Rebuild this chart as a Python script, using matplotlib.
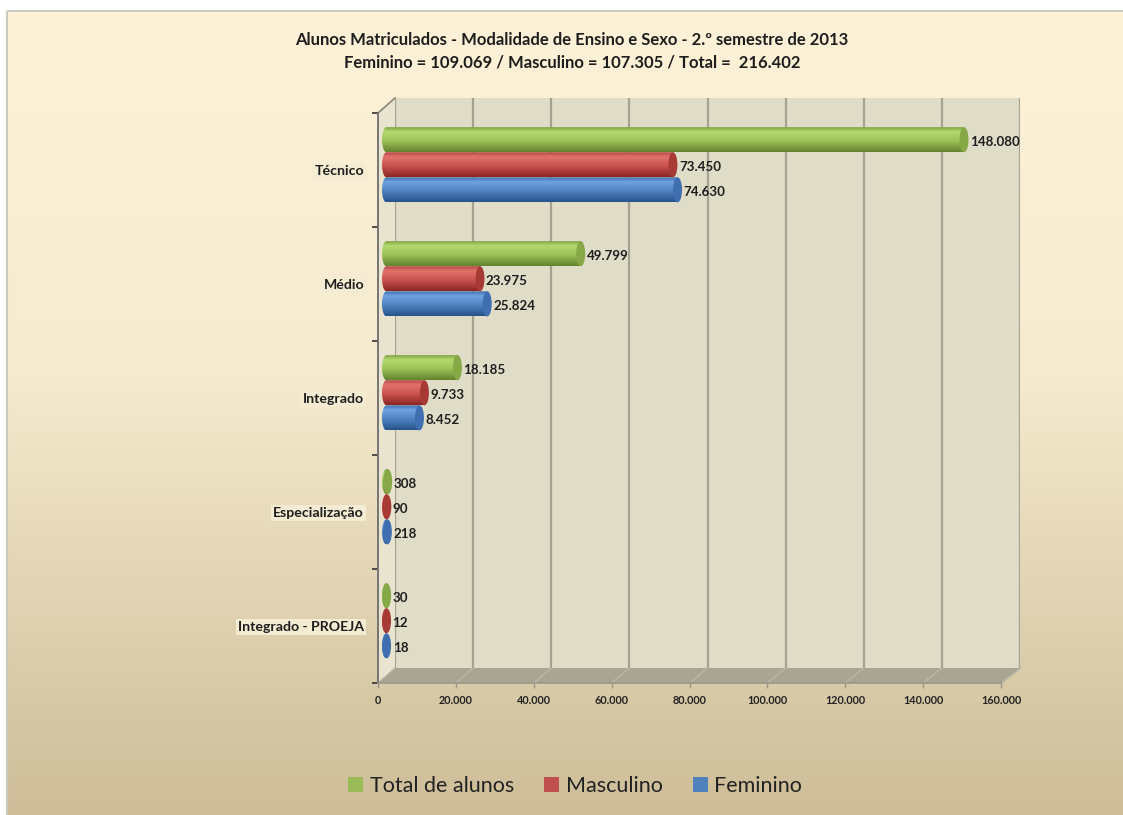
import matplotlib
matplotlib.use('Agg')
import numpy as np
import matplotlib.pyplot as plt
from matplotlib.colors import LinearSegmentedColormap
from matplotlib.patches import Ellipse, Polygon, Rectangle, Patch
from matplotlib.ticker import FuncFormatter, MultipleLocator, FixedLocator

plt.rcParams['font.family'] = ['Lato', 'DejaVu Sans']

categories = ['Técnico', 'Médio', 'Integrado', 'Especialização', 'Integrado - PROEJA']
total = [148080, 49799, 18185, 308, 30]
masculino = [73450, 23975, 9733, 90, 12]
feminino = [74630, 25824, 8452, 218, 18]
series_names = ['Total de alunos', 'Masculino', 'Feminino']
title1 = 'Alunos Matriculados - Modalidade de Ensino e Sexo - 2.º semestre de 2013'
title2 = 'Feminino = 109.069 / Masculino = 107.305 / Total =  216.402'

W, H = 1123, 815
fig = plt.figure(figsize=(W / 100, H / 100), dpi=100, facecolor='white')


def box(x0, y0, x1, y1):
    # pixel box (top-left origin) -> figure fraction rect
    return [x0 / W, 1 - y1 / H, (x1 - x0) / W, (y1 - y0) / H]


def fmt(v):
    return f'{int(v):,}'.replace(',', '.')


# background in pixel coords
bg = fig.add_axes([0, 0, 1, 1], zorder=0)
bg.set_xlim(0, W)
bg.set_ylim(H, 0)
bg.axis('off')
bg_cmap = LinearSegmentedColormap.from_list('bg', [(0, '#fdf2d7'), (0.45, '#f6ebcf'), (1, '#cdbd98')])
grad = np.linspace(0, 1, 256).reshape(-1, 1)
bg.imshow(grad, cmap=bg_cmap, extent=(7, W, H, 11), aspect='auto', origin='upper')
bg.add_patch(Rectangle((7, 11), W, H, fill=False, ec='#cfcac0', lw=1.5))
bg.set_xlim(0, W)
bg.set_ylim(H, 0)

# 3d geometry (pixels): front plane, back plane
fx0, fx1, fy0, fy1 = 378, 1001, 113, 683
bx0, bx1, by0, by1 = 395, 1020, 98, 668

# left wall and floor
bg.add_patch(Polygon([(fx0, fy0), (bx0, by0), (bx0, by1), (fx0, fy1)], closed=True,
                     fc='#e8e4cf', ec='none'))
bg.add_patch(Polygon([(fx0, fy1), (bx0, by1), (bx1, by1), (fx1, fy1)], closed=True,
                     fc='#a9a593', ec='none'))
bg.plot([fx0, bx0], [fy0, by0], color='#8a8778', lw=1.2)
bg.plot([fx1, bx1], [fy1, by1], color='#9a978a', lw=1.2)
for v in range(0, 160001, 20000):
    xb = bx0 + v / 160000 * (bx1 - bx0)
    xf = fx0 + v / 160000 * (fx1 - fx0)
    bg.plot([xf, xb], [fy1, by1], color='#bcb8a8', lw=1.0)

# back wall
back = fig.add_axes(box(bx0, by0, bx1, by1), zorder=1)
back.set_xlim(0, 160000)
back.set_ylim(0, 5)
back.set_facecolor('#dfdcc7')
for s in back.spines.values():
    s.set_visible(False)
back.set_xticks(range(0, 160001, 20000))
back.set_yticks([])
back.tick_params(length=0, labelbottom=False)
back.grid(axis='x', color='#a5a294', lw=1.6)

# front axes: ticks and labels
front = fig.add_axes(box(fx0, fy0, fx1, fy1), zorder=2)
front.patch.set_visible(False)
front.set_xlim(0, 160000)
front.set_ylim(0, 5)
for k in ['top', 'right']:
    front.spines[k].set_visible(False)
front.spines['left'].set_color('#6d6d6d')
front.spines['left'].set_linewidth(1.3)
front.spines['bottom'].set_color('#9a978a')
front.spines['bottom'].set_linewidth(1.2)
front.xaxis.set_major_locator(MultipleLocator(20000))
front.xaxis.set_major_formatter(FuncFormatter(lambda v, p: fmt(v)))
front.tick_params(axis='x', length=3.6, width=1, color='#9a978a', pad=5,
                  labelsize=7.8, labelcolor='#222222')
for t in front.get_xticklabels():
    t.set_fontweight('bold')
front.yaxis.set_major_locator(FixedLocator(range(6)))
front.yaxis.set_major_formatter(FuncFormatter(lambda v, p: ''))
front.yaxis.set_minor_locator(FixedLocator([4.5, 3.5, 2.5, 1.5, 0.5]))
front.set_yticklabels(categories, minor=True)
front.tick_params(axis='y', which='major', length=4, width=1.2, color='#333333')
front.tick_params(axis='y', which='minor', length=0, pad=10, labelsize=10.2, labelcolor='#1e1e1e')
for t in front.get_yticklabels(minor=True):
    t.set_fontweight('bold')
    t.set_bbox(dict(boxstyle='square,pad=0.15', fc='#f3ebd2', ec='none'))

# bars (middle depth plane)
ax = fig.add_axes(box((fx0 + bx0) / 2, (fy0 + by0) / 2, (fx1 + bx1) / 2, (fy1 + by1) / 2), zorder=3)
ax.patch.set_visible(False)
ax.axis('off')
ax.set_xlim(0, 160000)
ax.set_ylim(0, 5)

styles = [
    # top-dark, light, mid, bottom-dark, cap
    ('#76963a', '#b4da6e', '#9fc45a', '#63822c', '#86a847'),
    ('#a83d39', '#e3726d', '#cc5551', '#8c2522', '#a83a36'),
    ('#33639f', '#70a1e0', '#5285c4', '#27528a', '#3f6fb0'),
]
series = [total, masculino, feminino]
offsets = [0.20, -0.02, -0.24]
h = 0.22
capw = 2300
ypos = [4.5, 3.5, 2.5, 1.5, 0.5]

for vals, st, off in zip(series, styles, offsets):
    cmap = LinearSegmentedColormap.from_list('c', [(0, st[0]), (0.22, st[1]), (0.55, st[2]), (1, st[3])])
    for yc, v in zip(ypos, vals):
        y = yc + off
        top, bot = y + h / 2, y - h / 2
        t = np.linspace(np.pi / 2, 3 * np.pi / 2, 40)
        arc = list(zip(capw / 2 * np.cos(t), y + h / 2 * np.sin(t)))
        poly = Polygon([(v, top), (0, top)] + arc + [(0, bot), (v, bot)], closed=True,
                       transform=ax.transData, fc='none', ec='none')
        im = ax.imshow(grad, cmap=cmap, extent=(-capw / 2, v, bot, top), aspect='auto',
                       origin='upper', interpolation='bilinear', zorder=2)
        im.set_clip_path(poly)
        im.set_clip_box(fig.bbox)
        ax.add_patch(Ellipse((v, y), capw, h, fc=st[4], ec='none', zorder=3, clip_on=False))
        ax.annotate(fmt(v), (v, y), xytext=(6, -2), textcoords='offset pixels',
                    ha='left', va='center', fontsize=9.6, fontweight='bold', color='#1e1e1e',
                    zorder=4, annotation_clip=False)

ax.set_xlim(0, 160000)
ax.set_ylim(0, 5)

# titles
fig.text(572 / W, 1 - 40 / H, title1, ha='center', va='center', fontsize=12,
         fontweight='bold', color='#1e1e1e')
fig.text(572 / W, 1 - 62 / H, title2, ha='center', va='center', fontsize=12,
         fontweight='bold', color='#1e1e1e')

# legend
handles = [Patch(fc='#9bbb59', ec='none'), Patch(fc='#c0504d', ec='none'),
           Patch(fc='#4f81bd', ec='none')]
fig.legend(handles, series_names, loc='center', bbox_to_anchor=(575 / W, 1 - 786 / H),
           ncol=3, frameon=False, fontsize=15.5, handlelength=0.7, handleheight=0.7,
           handletextpad=0.3, columnspacing=1.4, labelcolor='#222222')

fig.savefig('out.png', dpi=100)
